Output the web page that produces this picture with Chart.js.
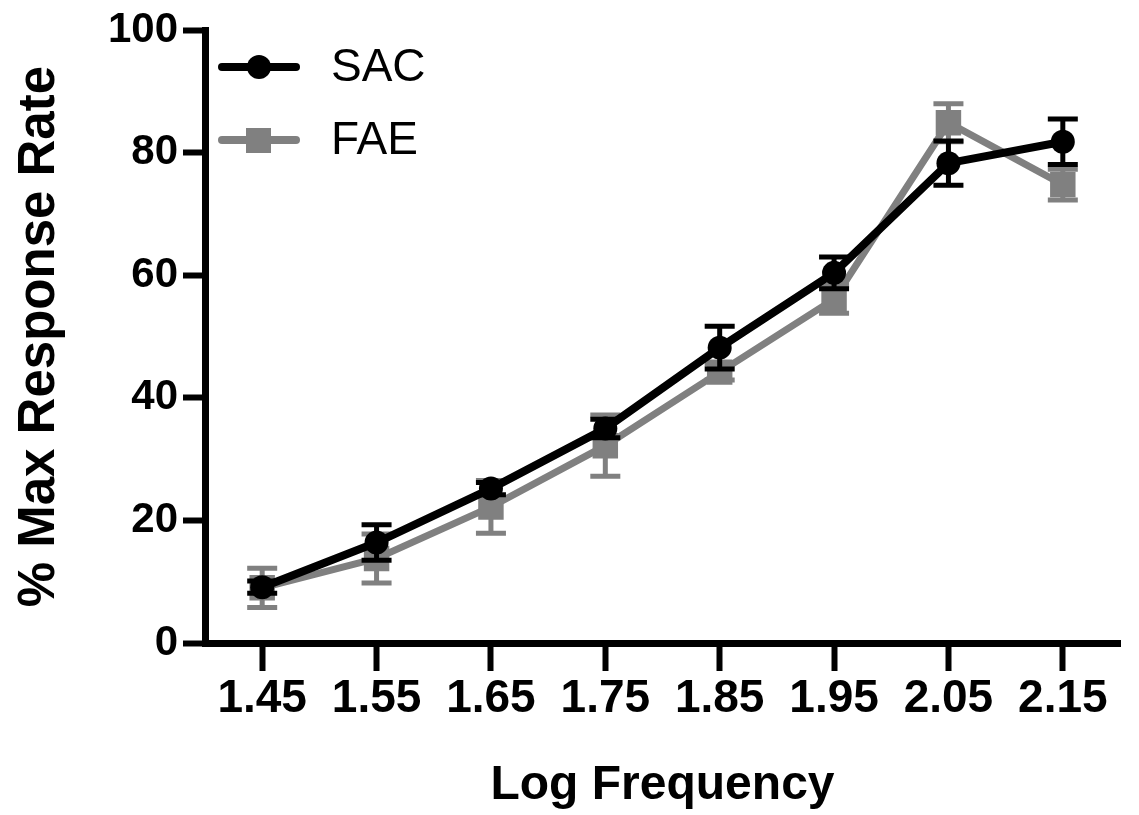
<!DOCTYPE html>
<html>
<head>
<meta charset="utf-8">
<script src="https://cdn.jsdelivr.net/npm/chart.js@4.4.1/dist/chart.umd.min.js"></script>
<style>
    body { margin: 0; background: #fff; }
    #wrap { width: 1139px; height: 815px; }
</style>
</head>
<body>
<div id="wrap"><canvas id="chartFrecuencia"></canvas></div>
<script>
const etiquetas = ['1.45', '1.55', '1.65', '1.75', '1.85', '1.95', '2.05', '2.15'];
const sacValores = [9.1, 16.4, 25.2, 35.0, 48.2, 60.4, 78.3, 81.8];
const sacError = [1.0, 2.9, 1.0, 1.5, 3.5, 2.6, 3.6, 3.7];
const faeValores = [9.0, 13.8, 22.2, 32.2, 44.2, 56.1, 84.9, 74.8];
const faeError = [3.2, 4.0, 4.3, 5.0, 1.3, 2.3, 3.1, 2.5];
const yTicks = [0, 20, 40, 60, 80, 100];

const NEGRO = '#000000';
const GRIS = '#808080';

const errores = [sacError, faeError];

// barras de error dibujadas con la escala Y del grafico
const pluginErrores = {
    id: 'barrasError',
    beforeDatasetDraw(chart, args) {
        const i = args.index;
        const meta = chart.getDatasetMeta(i);
        const escalaY = chart.scales.y;
        const ds = chart.data.datasets[i];
        const ctx = chart.ctx;
        ctx.save();
        ctx.strokeStyle = ds.borderColor;
        ctx.lineWidth = 5;
        meta.data.forEach((punto, j) => {
            const v = ds.data[j];
            const e = errores[i][j];
            const arriba = escalaY.getPixelForValue(v + e);
            const abajo = escalaY.getPixelForValue(v - e);
            ctx.beginPath();
            ctx.moveTo(punto.x, arriba);
            ctx.lineTo(punto.x, abajo);
            ctx.moveTo(punto.x - 15, arriba);
            ctx.lineTo(punto.x + 15, arriba);
            ctx.moveTo(punto.x - 15, abajo);
            ctx.lineTo(punto.x + 15, abajo);
            ctx.stroke();
        });
        ctx.restore();
    }
};

// leyenda dentro del area, arriba a la izquierda
const pluginLeyenda = {
    id: 'leyendaInterna',
    afterDraw(chart) {
        const ctx = chart.ctx;
        const x0 = 222;
        const filas = [67, 140];
        ctx.save();
        chart.data.datasets.forEach((ds, i) => {
            const y = filas[i];
            ctx.strokeStyle = ds.borderColor;
            ctx.lineWidth = 8;
            ctx.lineCap = 'round';
            ctx.beginPath();
            ctx.moveTo(x0, y);
            ctx.lineTo(x0 + 74, y);
            ctx.stroke();
            ctx.fillStyle = ds.backgroundColor;
            if (ds.pointStyle === 'circle') {
                ctx.beginPath();
                ctx.arc(x0 + 37, y, 12, 0, Math.PI * 2);
                ctx.fill();
            } else {
                ctx.fillRect(x0 + 24, y - 12, 25, 25);
            }
            ctx.fillStyle = '#000';
            ctx.font = '46px "Liberation Sans", Arial, sans-serif';
            ctx.textBaseline = 'middle';
            ctx.textAlign = 'left';
            ctx.fillText(ds.label, 331, y + 1);
        });
        ctx.restore();
    }
};

const canvasFrecuencia = document.getElementById('chartFrecuencia');
const contextFrecuencia = canvasFrecuencia.getContext('2d');

const chartFrecuencia = new Chart(contextFrecuencia, {
    type: 'line',
    data: {
        labels: etiquetas,
        datasets: [
            {
                label: 'SAC',
                data: sacValores,
                borderColor: NEGRO,
                backgroundColor: NEGRO,
                borderWidth: 8,
                pointStyle: 'circle',
                pointRadius: 12,
                pointBorderWidth: 0,
                tension: 0
            },
            {
                label: 'FAE',
                data: faeValores,
                borderColor: GRIS,
                backgroundColor: GRIS,
                borderWidth: 7,
                pointStyle: 'rect',
                pointRadius: 18,
                pointBorderWidth: 0,
                tension: 0
            }
        ]
    },
    options: {
        responsive: true,
        maintainAspectRatio: false,
        animation: false,
        layout: {
            padding: { top: 28, right: 19, bottom: 0, left: 0 }
        },
        plugins: {
            legend: { display: false },
            tooltip: { enabled: false },
            title: { display: false }
        },
        scales: {
            x: {
                type: 'category',
                offset: true,
                afterFit: (escala) => { escala.height = 172; },
                grid: {
                    display: true,
                    drawOnChartArea: false,
                    offset: false,
                    tickLength: 28,
                    tickWidth: 6,
                    tickColor: NEGRO
                },
                border: { display: true, width: 7, color: NEGRO },
                ticks: {
                    color: NEGRO,
                    padding: 1,
                    maxRotation: 0,
                    font: { family: '"Liberation Sans", Arial, sans-serif', size: 46, weight: 'bold' }
                },
                title: {
                    display: true,
                    text: 'Log Frequency',
                    color: NEGRO,
                    padding: { top: 0, bottom: 0 },
                    font: { family: '"Liberation Sans", Arial, sans-serif', size: 48, weight: 'bold' }
                }
            },
            y: {
                min: 0,
                max: 100,
                afterFit: (escala) => { escala.width = 205; },
                afterBuildTicks: (escala) => { escala.ticks = yTicks.map(v => ({ value: v })); },
                grid: {
                    display: true,
                    drawOnChartArea: false,
                    tickLength: 22,
                    tickWidth: 6,
                    tickColor: NEGRO
                },
                border: { display: true, width: 7, color: NEGRO },
                ticks: {
                    color: NEGRO,
                    padding: 5,
                    font: { family: '"Liberation Sans", Arial, sans-serif', size: 42, weight: 'bold' }
                },
                title: {
                    display: true,
                    text: '% Max Response Rate',
                    color: NEGRO,
                    padding: { top: 9, bottom: 0 },
                    font: { family: '"Liberation Sans", Arial, sans-serif', size: 51, weight: 'bold' }
                }
            }
        }
    },
    plugins: [pluginErrores, pluginLeyenda]
});
</script>
</body>
</html>
